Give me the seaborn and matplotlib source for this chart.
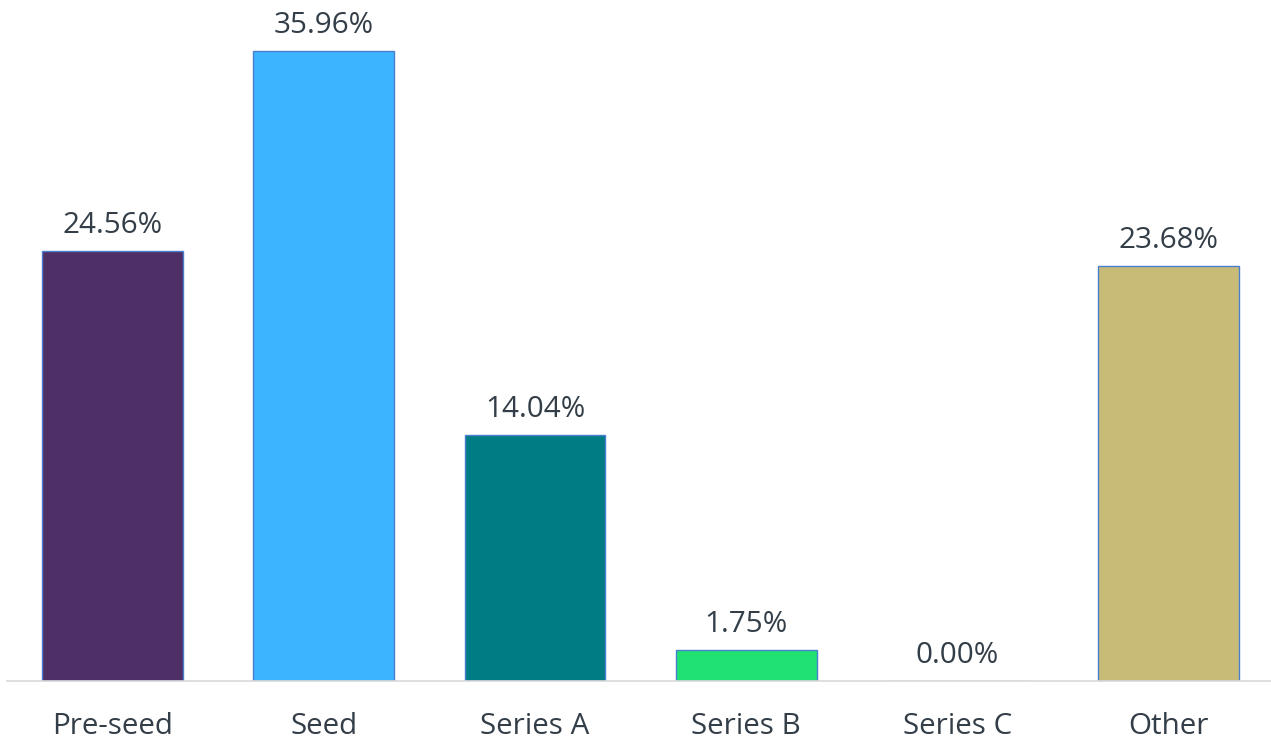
import matplotlib
matplotlib.use("Agg")
import matplotlib.pyplot as plt
import seaborn as sns
import pandas as pd

categories = ["Pre-seed", "Seed", "Series A", "Series B", "Series C", "Other"]
values = [24.56, 35.96, 14.04, 1.75, 0.00, 23.68]
colors = ["#4e3066", "#3cb4ff", "#007c85", "#20e272", "#8888cc", "#c8bb78"]

sns.set_theme(style="white")
plt.rcParams["font.family"] = ["Open Sans", "DejaVu Sans"]
text_color = "#333e48"

df = pd.DataFrame({"stage": categories, "share": values})

fig = plt.figure(figsize=(12.71, 7.40), dpi=100)
ax = fig.add_axes([0.0055, 0.0797, 0.9945, 0.9203])

sns.barplot(data=df, x="stage", y="share", hue="stage", palette=colors,
            width=0.667, legend=False, ax=ax, saturation=1,
            edgecolor="#4a7fd0", linewidth=1.0)

for i, v in enumerate(values):
    ax.annotate(f"{v:.2f}%", xy=(i, v), xytext=(0, 8), textcoords="offset points",
                ha="center", va="bottom", fontsize=21.3, color=text_color)

ax.set_xlim(-0.5, 5.485)
ax.set_ylim(0, 38.87)
ax.set_xlabel("")
ax.set_ylabel("")
ax.set_yticks([])
ax.tick_params(axis="x", length=0, pad=22, labelsize=21.3, labelcolor=text_color)
for s in ["top", "right", "left"]:
    ax.spines[s].set_visible(False)
ax.spines["bottom"].set_color("#d9d9d9")
ax.spines["bottom"].set_linewidth(1.2)

fig.savefig("out.png", dpi=100)
